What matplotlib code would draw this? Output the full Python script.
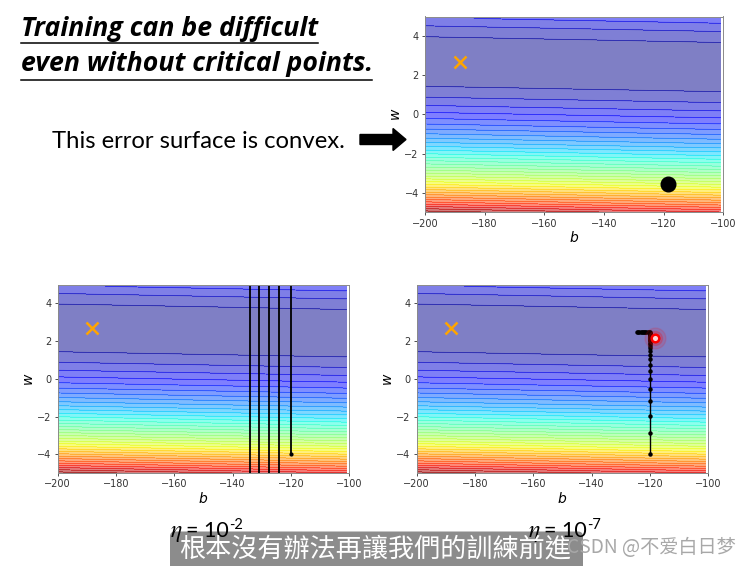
import numpy as np
import matplotlib
matplotlib.use("Agg")
import matplotlib.pyplot as plt
from matplotlib.patches import FancyBboxPatch, Polygon

# training data (x: input, y: target) that defines the error surface
x_data = [338., 333., 328., 207., 226., 25., 179., 60., 208., 606.]
y_data = [640., 633., 619., 393., 428., 27., 193., 66., 226., 1591.]

# grid of bias / weight values
b_axis = np.arange(-200, -100, 1)
w_axis = np.arange(-5, 5, 0.1)

# optimum (orange x) and starting point (black dot)
b_best, w_best = -188.4, 2.67
b_start, w_start = -118.5, -3.57

# learning rate 1e-2: w explodes, only vertical segments stay in view
b_fast = [-120, -120, -124, -124, -127.6, -127.6, -131.1, -131.1, -134.1, -134.1]
w_fast = [-4, 400, 400, -400, -400, 400, 400, -400, -400, 400]

# learning rate 1e-7: crawls up in w, then barely moves in b
b_slow = [-120, -120, -120, -120, -120, -120, -120, -120, -120, -120,
          -120, -120, -120, -120, -120, -120, -120, -120, -120, -120,
          -120, -120, -120, -120, -120, -120, -120,
          -120.4, -120.8, -121.2, -121.6, -122.0, -122.4, -122.8,
          -123.2, -123.6, -124.0, -124.4]
w_slow = [-4.0, -2.86, -1.95, -1.16, -0.56, -0.02, 0.41, 0.75, 1.03, 1.27,
          1.47, 1.61, 1.73, 1.83, 1.92, 2.0, 2.07, 2.13, 2.19, 2.24,
          2.29, 2.33, 2.37, 2.40, 2.43, 2.45, 2.47,
          2.47, 2.47, 2.47, 2.47, 2.47, 2.47, 2.47,
          2.47, 2.47, 2.47, 2.47]
b_mark, w_mark = -118.2, 2.18

x_ticks = [-200, -180, -160, -140, -120, -100]
y_ticks = [-4, -2, 0, 2, 4]

# mean squared error over the grid
xd = np.array(x_data)[:, None, None]
yd = np.array(y_data)[:, None, None]
B, W = np.meshgrid(b_axis, w_axis)
Z = ((yd - B[None] - W[None] * xd) ** 2).mean(axis=0)

W_PX, H_PX = 754, 566
fig = plt.figure(figsize=(W_PX / 100, H_PX / 100), dpi=100)


def px_axes(left, top, right, bottom):
    return fig.add_axes([left / W_PX, 1 - bottom / H_PX,
                         (right - left) / W_PX, (bottom - top) / H_PX])


def draw_surface(ax):
    cs = ax.contourf(b_axis, w_axis, Z, 50, alpha=0.5, cmap='jet')
    ax.contour(b_axis, w_axis, Z, levels=cs.levels, cmap='jet',
               linewidths=0.5, alpha=0.3)
    ax.plot([b_best], [w_best], 'x', ms=8.5, mew=1.8, color='orange')
    ax.set_xlim(-200, -100)
    ax.set_ylim(-5, 5)
    ax.set_xticks(x_ticks)
    ax.set_yticks(y_ticks)
    ax.tick_params(labelsize=7, length=2.5, width=0.6, pad=2,
                   colors='#333333')
    for sp in ax.spines.values():
        sp.set_color('#8a8a8a')
        sp.set_linewidth(0.7)
    ax.set_xlabel(r'$b$', fontsize=10, labelpad=1)
    ax.set_ylabel(r'$w$', fontsize=10, labelpad=1)


ax_top = px_axes(425, 16.5, 723.3, 212.3)
draw_surface(ax_top)
ax_top.plot([b_start], [w_start], 'o', ms=10.5, color='black')

ax_fast = px_axes(57.7, 284.5, 349.3, 473.2)
draw_surface(ax_fast)
ax_fast.plot(b_fast, w_fast, 'o-', ms=2, lw=1.3, color='black')

ax_slow = px_axes(416.7, 284.5, 708.3, 473.2)
draw_surface(ax_slow)
ax_slow.plot(b_slow, w_slow, 'o-', ms=2.2, lw=1.0, color='black')
ax_slow.plot([b_mark], [w_mark], 'o', ms=15, color='red', alpha=0.12)
ax_slow.plot([b_mark], [w_mark], 'o', ms=10, color='red', alpha=0.18)
ax_slow.plot([b_mark], [w_mark], 'o', ms=5.5, mfc='#ffd6d6', mec='red', mew=1.8)

# slide decorations in pixel coordinates
deco = fig.add_axes([0, 0, 1, 1], zorder=5)
deco.set_xlim(0, W_PX)
deco.set_ylim(H_PX, 0)
deco.axis('off')
deco.patch.set_alpha(0)

title_kw = dict(family='Open Sans', weight='bold', style='italic', fontsize=19.2,
                color='black', va='baseline', ha='left')
deco.text(21, 35.5, 'Training can be difficult', **title_kw)
deco.text(21, 71, 'even without critical points.', **title_kw)
deco.plot([21, 318], [42.5, 42.5], color='black', lw=1.1)
deco.plot([21, 372], [79.5, 79.5], color='black', lw=1.1)

deco.text(52, 148, 'This error surface is convex.', family='Lato',
          fontsize=17.2, va='baseline', ha='left')
arrow = Polygon([(360, 134.5), (393, 134.5), (393, 128.5), (406, 139.5),
                 (393, 150.5), (393, 144.5), (360, 144.5)],
                closed=True, color='black')
deco.add_patch(arrow)

for x0, sup in [(170, '-2'), (528, '-7')]:
    deco.text(x0, 537, r'$\eta$', fontsize=17, math_fontfamily='stix',
              va='baseline', ha='left')
    deco.text(x0 + 16, 537, '= 10', family='Lato', fontsize=15.5,
              va='baseline', ha='left')
    deco.text(x0 + 59, 529, sup, family='Lato', fontsize=10.5,
              va='baseline', ha='left')

box = FancyBboxPatch((170, 531.5), 413, 45, boxstyle='round,pad=0,rounding_size=5',
                     fc='#8c8c8c', ec='none')
deco.add_patch(box)
deco.text(179, 549, '根本沒有辦法再讓我們的訓練前進', family='Noto Sans CJK TC',
          fontsize=18.8, color='white', va='center', ha='left')
deco.text(567, 553, 'CSDN @不爱白日梦', family=['Noto Sans CJK SC', 'DejaVu Sans'],
          fontsize=13.8, color='#a8a8a8', va='baseline', ha='left')

fig.savefig('out.png', dpi=100)
